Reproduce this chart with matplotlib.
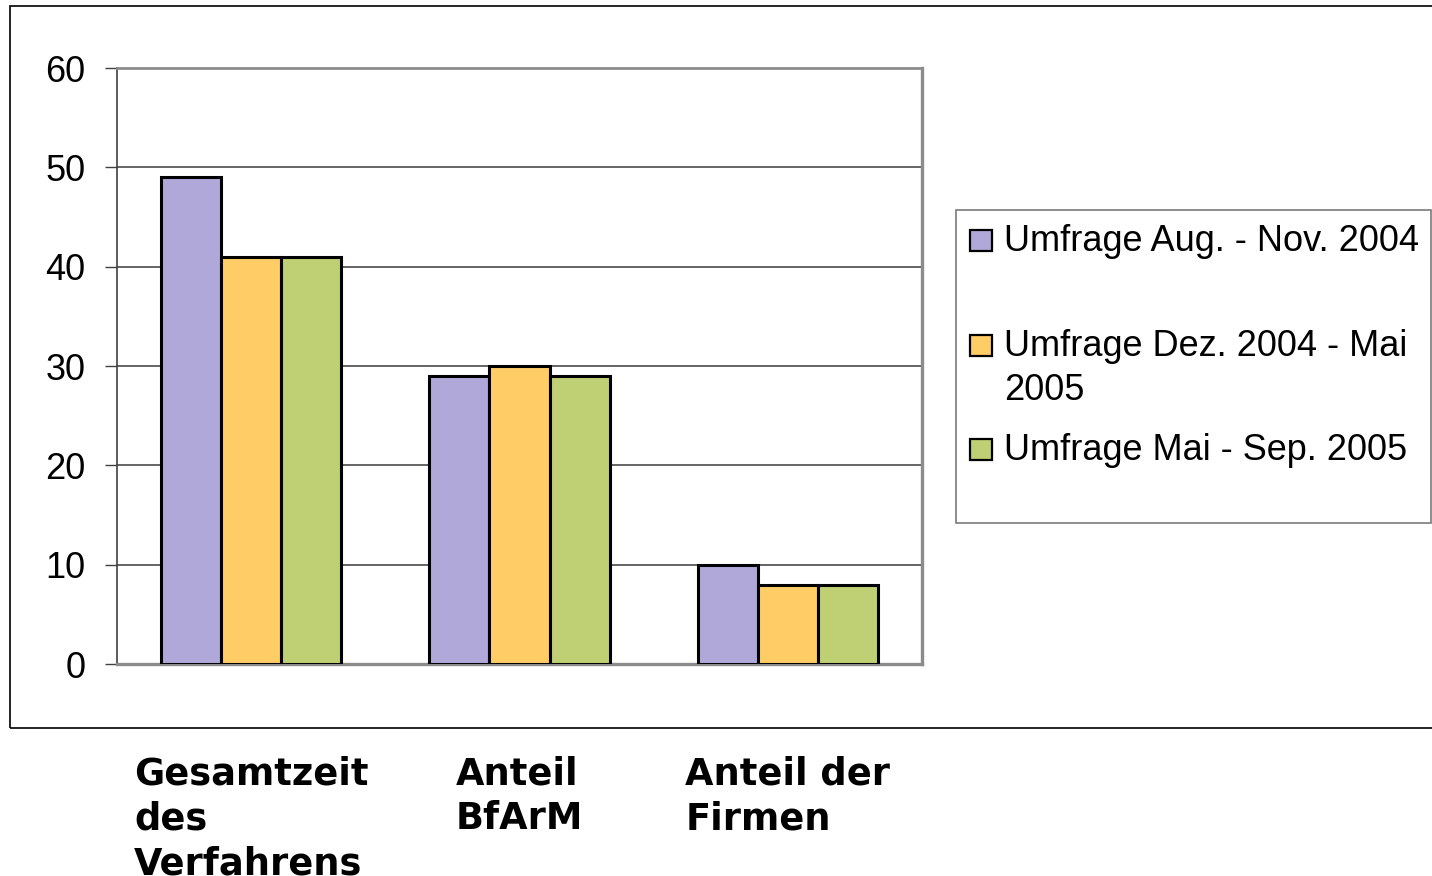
import matplotlib
matplotlib.use("Agg")
import matplotlib.pyplot as plt
from matplotlib.patches import Rectangle
import numpy as np

# Survey results (duration components)
categories = ["Gesamtzeit\ndes\nVerfahrens", "Anteil\nBfArM", "Anteil der\nFirmen"]
series_labels = ["Umfrage Aug. - Nov. 2004",
                 "Umfrage Dez. 2004 - Mai\n2005",
                 "Umfrage Mai - Sep. 2005"]
aug_nov_2004 = [49, 29, 10]
dez2004_mai2005 = [41, 30, 8]
mai_sep_2005 = [41, 29, 8]
series_values = [aug_nov_2004, dez2004_mai2005, mai_sep_2005]
series_colors = ["#B0A8D8", "#FFCC66", "#BFCF73"]
yticks = [0, 10, 20, 30, 40, 50, 60]

W, H = 1432, 876
fig = plt.figure(figsize=(W / 100, H / 100), dpi=100)
fig.patch.set_facecolor("white")

def fx(px):
    return px / W

def fy(py):
    return 1 - py / H

ax = fig.add_axes([fx(117), fy(664), fx(922) - fx(117), fy(68) - fy(664)])

x = np.arange(len(categories))
bar_w = 0.224
for i, (vals, col) in enumerate(zip(series_values, series_colors)):
    ax.bar(x + (i - 1) * bar_w, vals, width=bar_w, color=col,
           edgecolor="black", linewidth=2.2, zorder=3)

ax.set_xlim(-0.5, len(categories) - 0.5)
ax.set_ylim(0, 60)
ax.set_yticks(yticks)
ax.set_yticklabels([str(t) for t in yticks], fontsize=26,
                   fontfamily="Liberation Sans")
ax.yaxis.grid(True, color="#3a3a3a", linewidth=1.1, zorder=0)
ax.set_axisbelow(True)
ax.tick_params(axis="y", length=8.6, width=1.0, pad=14, color="#404040")

ax.set_xticks(x)
ax.set_xticklabels(categories, fontsize=26.5, fontweight="bold",
                   fontfamily="DejaVu Sans", ha="center",
                   multialignment="left", linespacing=1.27)
ax.tick_params(axis="x", length=0, pad=66)

for side, lw, col in [("left", 1.2, "#404040"), ("bottom", 2.4, "#8c8c8c"),
                      ("top", 2.0, "#8c8c8c"), ("right", 2.4, "#8c8c8c")]:
    ax.spines[side].set_linewidth(lw)
    ax.spines[side].set_color(col)

# Outer chart frame
fig.add_artist(Rectangle((fx(10), fy(728)), 1.2, fy(6) - fy(728),
                         transform=fig.transFigure, fill=False,
                         edgecolor="black", linewidth=1.2))

# Legend box
fig.add_artist(Rectangle((fx(956), fy(523)), fx(1431) - fx(956), fy(210) - fy(523),
                         transform=fig.transFigure, fill=False,
                         edgecolor="#7a7a7a", linewidth=1.2))
legend_baselines = [251, 356, 460]
line_pitch = 44
for lab, col, base in zip(series_labels, series_colors, legend_baselines):
    fig.add_artist(Rectangle((fx(970), fy(base)), fx(992) - fx(970), fy(base - 21) - fy(base),
                             transform=fig.transFigure, facecolor=col,
                             edgecolor="black", linewidth=1.6))
    for k, line in enumerate(lab.split("\n")):
        fig.text(fx(1004), fy(base + k * line_pitch), line, fontsize=26,
                 fontfamily="Liberation Sans", ha="left", va="baseline")

fig.savefig("out.png", dpi=100)
